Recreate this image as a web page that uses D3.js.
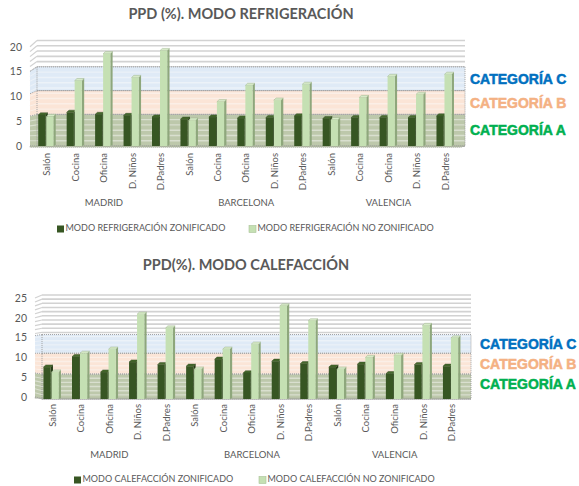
<!DOCTYPE html>
<html>
<head>
<meta charset="utf-8">
<script src="https://cdn.jsdelivr.net/npm/d3@7"></script>
<style>
  html, body { margin: 0; padding: 0; background: #ffffff; }
  svg { display: block; }
</style>
</head>
<body>
<svg id="chart" width="579" height="486"></svg>
<script>
// ---------- DATA ----------
const rooms = ["Salón", "Cocina", "Oficina", "D. Niños", "D.Padres"];
const cities = ["MADRID", "BARCELONA", "VALENCIA"];

// PPD (%) cooling mode, order: Madrid(5 rooms), Barcelona(5), Valencia(5)
const refZonificado   = [6.3, 6.8, 6.4, 6.2, 5.9,  5.5, 5.9, 5.7, 5.8, 6.1,  5.6, 5.8, 5.8, 5.8, 6.1];
const refNoZonificado = [6.0, 12.8, 17.9, 13.4, 18.5,  5.3, 8.8, 11.9, 9.1, 12.1,  5.4, 9.6, 13.6, 10.2, 14.0];

// PPD (%) heating mode
const calZonificado   = [8.2, 10.7, 7.0, 9.4, 8.8,  8.4, 10.1, 6.8, 9.6, 9.0,  8.2, 8.9, 6.6, 8.8, 8.4];
const calNoZonificado = [7.0, 11.5, 12.5, 20.9, 17.6,  7.7, 12.5, 13.7, 22.9, 19.3,  7.7, 10.5, 11.0, 18.2, 15.2];

const yTicksRef = [0, 5, 10, 15, 20];
const yTicksCal = [0, 5, 10, 15, 20, 25];

// comfort category limits (upper edge of A, B, C bands)
const bandLimitsRef = [6, 10.5, 15];
const bandLimitsCal = [6, 11, 15.5];
const bandNames = ["CATEGORÍA A", "CATEGORÍA B", "CATEGORÍA C"];

const legendRef = ["MODO REFRIGERACIÓN ZONIFICADO", "MODO REFRIGERACIÓN NO ZONIFICADO"];
const legendCal = ["MODO CALEFACCIÓN ZONIFICADO", "MODO CALEFACCIÓN NO ZONIFICADO"];

// ---------- STYLE ----------
const TXT = "#595959";
const FONT = "Lato, 'Open Sans', sans-serif";
const bandFill = ["#b7c3a4", "#fbe3d4", "#dce8f5"];
const bandText = ["#00b050", "#f4b183", "#0070c0"];
const darkCol = { front: "#375623", side: "#263c17", top: "#476b2e" };
const lightCol = { front: "#c5e0b3", side: "#8ea77c", top: "#d7eac8" };

const svg = d3.select("#chart");

function drawChart(cfg) {
  const g = svg.append("g");
  const keys = [];
  cities.forEach(c => rooms.forEach(r => keys.push(c + "|" + r)));

  const x = d3.scaleBand().domain(keys).range(cfg.xRange);
  const yW = d3.scaleLinear().domain([0, cfg.yMax]).range(cfg.wallY);   // back wall
  const yF = d3.scaleLinear().domain([0, cfg.yMax]).range(cfg.frontY);  // front edge (labels)
  const xb0 = cfg.wallX[0], xb1 = cfg.wallX[1], xf = cfg.sideX;

  // Title
  g.append("text").attr("x", cfg.titlePos[0]).attr("y", cfg.titlePos[1])
    .attr("text-anchor", "middle").attr("dominant-baseline", "middle")
    .attr("font-family", FONT).attr("font-weight", 700).attr("font-size", 14.5)
    .attr("fill", TXT).text(cfg.title);

  // back wall
  g.append("rect").attr("x", xb0).attr("y", yW(cfg.yMax)).attr("width", xb1 - xb0)
    .attr("height", yW(0) - yW(cfg.yMax)).attr("fill", "#ffffff");
  // side wall
  g.append("polygon")
    .attr("points", [[xf, yF(cfg.yMax)], [xb0, yW(cfg.yMax)], [xb0, yW(0)], [xf, yF(0)]].map(p => p.join(",")).join(" "))
    .attr("fill", "#ffffff");

  const gridVals = d3.range(0, cfg.yMax + 0.001, 1);
  // gridlines (plain)
  gridVals.forEach(v => {
    g.append("line").attr("x1", xb0).attr("x2", xb1).attr("y1", yW(v)).attr("y2", yW(v))
      .attr("stroke", "#d2d2d2").attr("stroke-width", 1.6);
    g.append("line").attr("x1", xf).attr("x2", xb0).attr("y1", yF(v)).attr("y2", yW(v))
      .attr("stroke", "#d2d2d2").attr("stroke-width", 1.2);
  });

  // bands
  const lows = [0, cfg.bands[0], cfg.bands[1]];
  cfg.bands.forEach((hi, i) => {
    const lo = lows[i];
    g.append("rect").attr("x", xb0).attr("y", yW(hi)).attr("width", xb1 - xb0)
      .attr("height", yW(lo) - yW(hi)).attr("fill", bandFill[i]).attr("opacity", 0.92);
    g.append("polygon")
      .attr("points", [[xf, yF(hi)], [xb0, yW(hi)], [xb0, yW(lo)], [xf, yF(lo)]].map(p => p.join(",")).join(" "))
      .attr("fill", bandFill[i]).attr("opacity", 0.92);
  });
  // lighter gridlines inside bands
  gridVals.filter(v => v > 0 && v < cfg.bands[2]).forEach(v => {
    g.append("line").attr("x1", xb0).attr("x2", xb1).attr("y1", yW(v)).attr("y2", yW(v))
      .attr("stroke", "#ffffff").attr("stroke-opacity", 0.45).attr("stroke-width", 1.4);
    g.append("line").attr("x1", xf).attr("x2", xb0).attr("y1", yF(v)).attr("y2", yW(v))
      .attr("stroke", "#ffffff").attr("stroke-opacity", 0.45).attr("stroke-width", 1.1);
  });
  // dotted band borders
  cfg.bands.forEach((hi, i) => {
    const lo = lows[i];
    g.append("rect").attr("x", xb0).attr("y", yW(hi)).attr("width", xb1 - xb0)
      .attr("height", yW(lo) - yW(hi)).attr("fill", "none")
      .attr("stroke", "#9a9a9a").attr("stroke-width", 0.9).attr("stroke-dasharray", "1,1");
    g.append("line").attr("x1", xf).attr("x2", xb0).attr("y1", yF(hi)).attr("y2", yW(hi))
      .attr("stroke", "#9a9a9a").attr("stroke-width", 0.9).attr("stroke-dasharray", "1,1");
  });
  // floor
  g.append("polygon")
    .attr("points", [[xf, yF(0)], [xb0, yW(0)], [xb1, yW(0)], [xb1 - 4, yF(0) + 1.5], [xf, yF(0) + 1.5]].map(p => p.join(",")).join(" "))
    .attr("fill", "#b7c3a4").attr("stroke", "#9a9a9a").attr("stroke-width", 0.8).attr("stroke-dasharray", "1,1");

  // y axis (front edge)
  const yAxis = d3.axisLeft(yF).tickValues(cfg.yTicks).tickSize(0).tickPadding(0).tickFormat(d3.format("d"));
  const ax = g.append("g").attr("transform", `translate(${cfg.yLabelX},0)`).call(yAxis);
  ax.select(".domain").remove();
  ax.selectAll("text").attr("font-family", FONT).attr("font-size", 10.5).attr("fill", TXT);

  // bars (cap top sits at the value)
  const fw = 7.2, dx = 2.3, dy = 2.2;
  function bar(x0, v, col) {
    const yt = yW(v) + dy, yb = yW(0);
    const bg = g.append("g");
    bg.append("polygon") // side
      .attr("points", [[x0 + fw, yt], [x0 + fw + dx, yt - dy], [x0 + fw + dx, yb - dy * 0.4], [x0 + fw, yb]].map(p => p.join(",")).join(" "))
      .attr("fill", col.side);
    bg.append("polygon") // top
      .attr("points", [[x0, yt], [x0 + dx, yt - dy], [x0 + fw + dx, yt - dy], [x0 + fw, yt]].map(p => p.join(",")).join(" "))
      .attr("fill", col.top).attr("stroke", col.side).attr("stroke-width", 0.4);
    bg.append("rect").attr("x", x0).attr("y", yt).attr("width", fw).attr("height", yb - yt)
      .attr("fill", col.front);
  }
  keys.forEach((k, i) => {
    const c = x(k) + x.bandwidth() / 2;
    bar(c - 8.8, cfg.s1[i], darkCol);
    bar(c - 0.8, cfg.s2[i], lightCol);
  });

  // category labels (rotated)
  keys.forEach((k, i) => {
    const c = x(k) + x.bandwidth() / 2;
    g.append("text")
      .attr("transform", `translate(${c + 3.3},${cfg.catLabelY}) rotate(-90)`)
      .attr("text-anchor", "end")
      .attr("font-family", FONT).attr("font-size", 9.5).attr("fill", TXT)
      .text(rooms[i % 5]);
  });
  // city labels
  cities.forEach((city, j) => {
    const c = x(city + "|" + rooms[2]) + x.bandwidth() / 2;
    g.append("text").attr("x", c).attr("y", cfg.cityY).attr("text-anchor", "middle")
      .attr("dominant-baseline", "middle")
      .attr("font-family", FONT).attr("font-size", 9.5).attr("fill", TXT).text(city);
  });

  // legend
  const lg = [[darkCol.front, cfg.legend[0]], [lightCol.front, cfg.legend[1]]];
  lg.forEach((d, i) => {
    const lx = cfg.legendX[i];
    g.append("rect").attr("x", lx).attr("y", cfg.legendY - 3.5).attr("width", 7).attr("height", 7)
      .attr("fill", d[0]).attr("stroke", i ? "#a9c196" : "none").attr("stroke-width", 0.6);
    g.append("text").attr("x", lx + 8.5).attr("y", cfg.legendY).attr("dominant-baseline", "middle")
      .attr("font-family", FONT).attr("font-size", 9).attr("fill", TXT).text(d[1]);
  });

  // category names at right
  [2, 1, 0].forEach((bi, j) => {
    g.append("text").attr("x", cfg.catNameX).attr("y", cfg.catNameY[j])
      .attr("dominant-baseline", "middle")
      .attr("font-family", "'Liberation Sans', Arial, sans-serif").attr("font-weight", 700)
      .attr("font-size", 14).attr("fill", bandText[bi])
      .attr("stroke", bandText[bi]).attr("stroke-width", 0.5)
      .text(bandNames[bi]);
  });
}

drawChart({
  title: "PPD (%). MODO REFRIGERACIÓN",
  titlePos: [241, 15],
  s1: refZonificado, s2: refNoZonificado,
  yMax: 20, yTicks: yTicksRef, bands: bandLimitsRef,
  xRange: [32.8, 459.5],
  wallX: [37, 465], sideX: 30,
  wallY: [146, 40.5], frontY: [145.7, 46.7],
  yLabelX: 22,
  catLabelY: 153, cityY: 204,
  legend: legendRef, legendX: [57, 249], legendY: 229,
  catNameX: 470, catNameY: [80, 104, 131.5]
});

drawChart({
  title: "PPD(%). MODO CALEFACCIÓN",
  titlePos: [246, 266.7],
  s1: calZonificado, s2: calNoZonificado,
  yMax: 25, yTicks: yTicksCal, bands: bandLimitsCal,
  xRange: [38, 466],
  wallX: [42, 471], sideX: 35,
  wallY: [399, 295], frontY: [396.7, 298],
  yLabelX: 27,
  catLabelY: 404, cityY: 456,
  legend: legendCal, legendX: [74, 259], legendY: 480,
  catNameX: 480, catNameY: [345, 365, 385]
});
</script>
</body>
</html>
